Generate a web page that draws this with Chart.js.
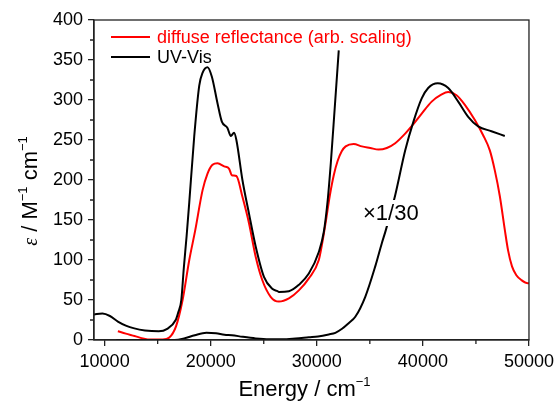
<!DOCTYPE html>
<html>
<head>
<meta charset="utf-8">
<script src="https://cdn.jsdelivr.net/npm/chart.js@4/dist/chart.umd.min.js"></script>
<style>
  body { margin: 0; background: #fff; }
</style>
</head>
<body>
<canvas id="chart" width="559" height="402"></canvas>
<script>
// diffuse reflectance (arb. scaling)
const drEnergy = [11250, 12000, 12820, 13600, 14380, 15480, 16100, 16730, 17350, 17980, 18540, 19230, 19700, 20170, 20640, 21270, 21740, 21990, 22420, 22990, 23610, 24240, 24860, 25650, 26430, 27370, 28310, 29250, 30190, 30470, 30850, 31220, 31600, 31970, 32350, 32720, 33470, 34250, 35040, 35820, 36600, 37390, 38330, 39110, 39890, 40830, 41770, 42390, 43170, 43960, 44900, 45680, 46310, 46780, 47250, 47720, 48030, 48400, 48810, 49280, 49900, 50000];
const drValues = [11, 8, 5, 2, 0.5, 0.5, 3, 17, 50, 100, 137, 187, 208, 219, 221, 217, 214, 206, 205, 179, 146, 104, 75, 54, 48, 52, 62, 77, 100, 118, 148, 180, 206, 224, 236, 242, 245, 242, 240, 238, 240, 246, 258, 270, 283, 298, 307, 310, 306, 294, 275, 256, 237, 212, 180, 138, 112, 92, 81, 75, 71, 71];

// UV-Vis, full scale
const uvEnergy = [9000, 9800, 10500, 11250, 12000, 12800, 13800, 15100, 15900, 16700, 16950, 17230, 17465, 17730, 17980, 18450, 18920, 19230, 19700, 20110, 20640, 21050, 21580, 21900, 22200, 22420, 22990, 23610, 24240, 25020, 25800, 26300, 26430, 27370, 28310, 29250, 30190, 30660, 31030, 31315, 31690, 32070];
const uvValues = [32, 33, 30, 23, 18, 14.5, 12, 11, 14, 25, 35, 50, 90, 130, 172, 255, 318, 334, 341, 329, 296, 273, 265, 255, 259, 250, 200, 158, 117, 79, 64, 61, 60, 61, 69, 83, 110, 135, 175, 220, 290, 362];

// UV-Vis divided by 30
const uv30Energy = [11100, 13000, 16600, 17500, 18500, 19600, 20500, 21300, 22000, 23000, 24240, 25500, 26740, 28000, 29250, 30120, 31130, 31750, 32380, 33000, 33630, 34570, 35510, 36130, 36500, 37390, 38330, 39110, 39890, 40500, 41400, 42390, 43330, 44270, 45210, 46460, 47720];
const uv30Values = [0, 0, 0, 2, 6, 9, 8.5, 6.5, 6, 4, 2, 1, 1, 2, 3.5, 4.5, 7, 9, 14, 21, 29, 54, 92, 121, 137, 181, 237, 273, 302, 315, 321, 315, 298, 279, 267, 261, 255];

const xMin = 9000, xMax = 50000;
const xTicks = [10000, 20000, 30000, 40000, 50000];
const xMinorTicks = [15000, 25000, 35000, 45000];
const yMin = 0, yMax = 400, yStep = 50, yMinor = 25;

function toPoints(xs, ys) {
    return xs.map((x, i) => ({ x: x, y: ys[i] }));
}

const sans = '"Liberation Sans", Arial, sans-serif';

function drawParts(ctx, parts, x, y) {
    // parts drawn left to right, centred on x, baseline at y
    let total = 0;
    parts.forEach(p => { ctx.font = p.font; total += ctx.measureText(p.text).width; });
    let cx = x - total / 2;
    parts.forEach(p => {
        ctx.font = p.font;
        ctx.fillText(p.text, cx, y + (p.dy || 0));
        cx += ctx.measureText(p.text).width;
    });
}

const extras = {
    id: 'extras',
    afterDatasetsDraw(chart) {
        const ctx = chart.ctx;
        const area = chart.chartArea;
        const xs = chart.scales.x, ys = chart.scales.y;
        ctx.save();

        // frame on top and right
        ctx.strokeStyle = '#222';
        ctx.lineWidth = 1.3;
        ctx.strokeRect(area.left, area.top, area.right - area.left, area.bottom - area.top);

        // minor ticks
        ctx.beginPath();
        for (let v = yMin + yMinor; v < yMax; v += yStep) {
            const py = ys.getPixelForValue(v);
            ctx.moveTo(area.left - 4, py);
            ctx.lineTo(area.left, py);
        }
        xMinorTicks.forEach(v => {
            const px = xs.getPixelForValue(v);
            ctx.moveTo(px, area.bottom);
            ctx.lineTo(px, area.bottom + 4);
        });
        ctx.stroke();

        // legend
        const legend = [
            { label: 'diffuse reflectance (arb. scaling)', color: '#ff0000', y: 37 },
            { label: 'UV-Vis', color: '#000000', y: 57 }
        ];
        ctx.font = '18px ' + sans;
        ctx.textBaseline = 'middle';
        legend.forEach(l => {
            ctx.strokeStyle = l.color;
            ctx.lineWidth = 2;
            ctx.beginPath();
            ctx.moveTo(111, l.y);
            ctx.lineTo(150, l.y);
            ctx.stroke();
            ctx.fillStyle = l.color;
            ctx.fillText(l.label, 157, l.y + 1);
        });

        // x1/30 label
        ctx.font = '22px ' + sans;
        const lbl = '\u00d71/30';
        const w = ctx.measureText(lbl).width;
        ctx.fillStyle = '#fff';
        ctx.fillRect(362, 200, w + 2, 26);
        ctx.fillStyle = '#000';
        ctx.fillText(lbl, 363, 214);

        // axis titles
        ctx.textBaseline = 'alphabetic';
        ctx.fillStyle = '#000';
        drawParts(ctx, [
            { text: 'Energy / cm', font: '22px ' + sans },
            { text: '\u22121', font: '13px ' + sans, dy: -10 }
        ], (area.left + area.right) / 2 - 7, 396);

        ctx.translate(37, 191);
        ctx.rotate(-Math.PI / 2);
        drawParts(ctx, [
            { text: '\u03b5', font: 'italic 20px "Liberation Serif", serif' },
            { text: ' / M', font: '22px ' + sans },
            { text: '\u22121', font: '13px ' + sans, dy: -10 },
            { text: ' cm', font: '22px ' + sans },
            { text: '\u22121', font: '13px ' + sans, dy: -10 }
        ], 0, 0);

        ctx.restore();
    }
};

new Chart(document.getElementById('chart'), {
    type: 'line',
    data: {
        datasets: [
            {
                label: 'UV-Vis x1/30',
                data: toPoints(uv30Energy, uv30Values),
                borderColor: '#000',
                borderWidth: 2
            },
            {
                label: 'UV-Vis',
                data: toPoints(uvEnergy, uvValues),
                borderColor: '#000',
                borderWidth: 2
            },
            {
                label: 'diffuse reflectance (arb. scaling)',
                data: toPoints(drEnergy, drValues),
                borderColor: '#ff0000',
                borderWidth: 2
            }
        ]
    },
    options: {
        responsive: false,
        animation: false,
        cubicInterpolationMode: 'monotone',
        elements: { point: { radius: 0 }, line: { tension: 0.4 } },
        layout: { padding: { top: 20, right: 28, left: 0, bottom: 0 } },
        plugins: { legend: { display: false }, tooltip: { enabled: false } },
        scales: {
            x: {
                type: 'linear',
                min: xMin,
                max: xMax,
                afterBuildTicks: s => { s.ticks = xTicks.map(v => ({ value: v })); },
                afterFit: s => { s.height = 62; },
                border: { display: true, color: '#222', width: 1.3 },
                grid: { drawOnChartArea: false, drawTicks: true, tickLength: 6, color: '#222', lineWidth: 1.3 },
                ticks: {
                    maxRotation: 0,
                    autoSkip: false,
                    padding: 5,
                    color: '#000',
                    font: { family: sans, size: 18 },
                    callback: v => String(v)
                }
            },
            y: {
                min: yMin,
                max: yMax,
                afterFit: s => { s.width = 94; },
                border: { display: true, color: '#222', width: 1.3 },
                grid: { drawOnChartArea: false, drawTicks: true, tickLength: 6, color: '#222', lineWidth: 1.3 },
                ticks: {
                    stepSize: yStep,
                    padding: 5,
                    color: '#000',
                    font: { family: sans, size: 18 },
                    callback: v => String(v)
                }
            }
        }
    },
    plugins: [extras]
});
</script>
</body>
</html>
